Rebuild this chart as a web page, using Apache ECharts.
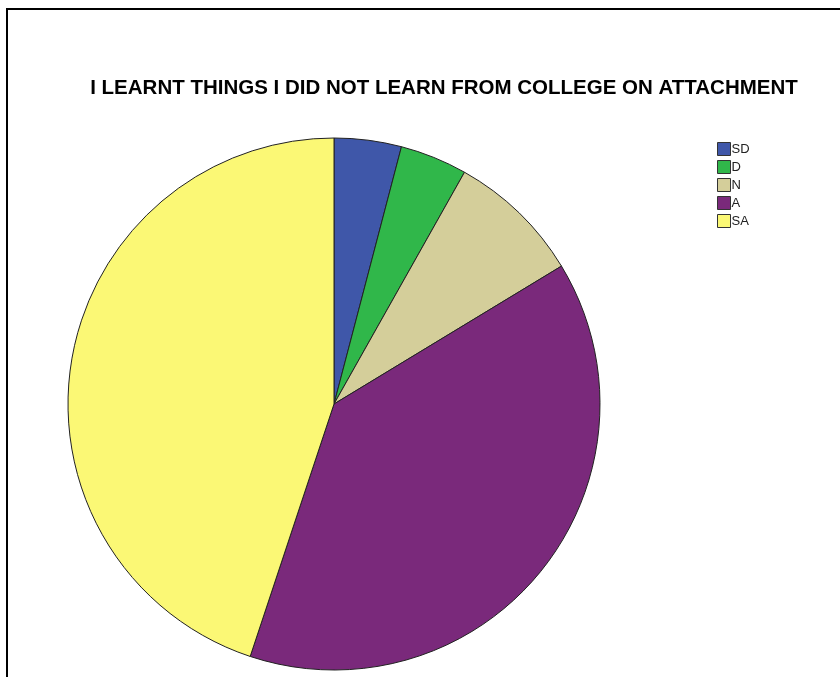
<!DOCTYPE html>
<html>
<head>
<meta charset="utf-8">
<script src="https://cdn.jsdelivr.net/npm/echarts@6/dist/echarts.min.js"></script>
<style>
  html, body { margin: 0; padding: 0; background: #fff; }
  #chart { width: 840px; height: 677px; }
</style>
</head>
<body>
<div id="chart"></div>
<script>
// Response categories and counts
const categories = ['SD', 'D', 'N', 'A', 'SA'];
const counts = [2, 2, 4, 19, 22];
const colors = ['#3f57a9', '#30b74a', '#d4ce9a', '#7a297b', '#fbf875'];

const chart = echarts.init(document.getElementById('chart'));

chart.setOption({
  animation: false,
  backgroundColor: '#ffffff',
  title: {
    text: 'I LEARNT THINGS I DID NOT LEARN FROM COLLEGE ON ATTACHMENT',
    left: 444,
    textAlign: 'center',
    top: 78,
    padding: 0,
    textStyle: {
      fontFamily: 'Liberation Sans, Arial, sans-serif',
      fontWeight: 'bold',
      fontSize: 20.5,
      color: '#000'
    }
  },
  legend: {
    orient: 'vertical',
    left: 717,
    top: 142,
    padding: 0,
    itemWidth: 13,
    itemHeight: 13,
    itemGap: 4,
    icon: 'rect',
    data: categories,
    textStyle: {
      fontFamily: 'Liberation Sans, Arial, sans-serif',
      fontSize: 13,
      color: '#222',
      padding: [0, 0, 0, -4]
    },
    itemStyle: { borderColor: '#333', borderWidth: 1 }
  },
  graphic: [{
    type: 'rect',
    shape: { x: 7, y: 9, width: 900, height: 800 },
    style: { fill: 'none', stroke: '#000', lineWidth: 2 },
    z: 0
  }],
  series: [{
    type: 'pie',
    center: [334, 404],
    radius: 266,
    startAngle: 90,
    clockwise: true,
    label: { show: false },
    labelLine: { show: false },
    emphasis: { disabled: true },
    itemStyle: { borderColor: '#222', borderWidth: 1 },
    data: categories.map((c, i) => ({
      name: c,
      value: counts[i],
      itemStyle: { color: colors[i] }
    }))
  }]
});
</script>
</body>
</html>
